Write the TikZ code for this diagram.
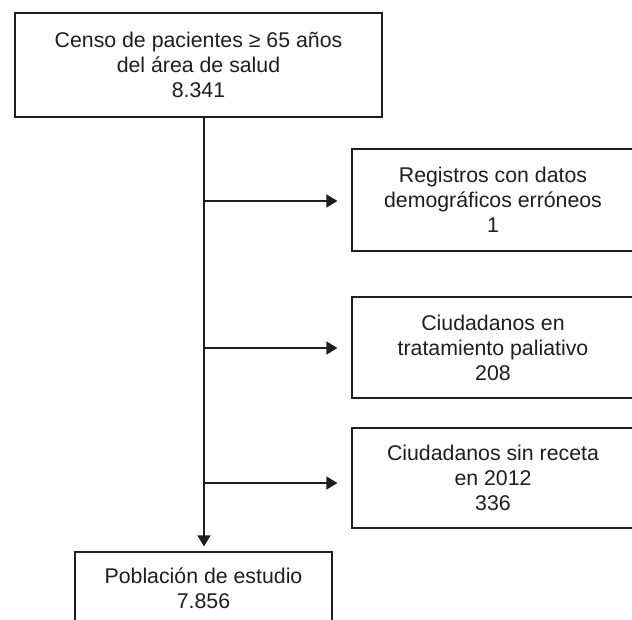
\documentclass[tikz,border=0pt]{standalone}
\usepackage{fontspec}
\setmainfont{Liberation Sans}
\usetikzlibrary{arrows.meta}
\definecolor{ink}{RGB}{30,30,30}
\begin{document}
\begin{tikzpicture}[x=1pt,y=-1pt,
  box/.style={draw=ink,line width=1.1pt,inner sep=0pt,align=center,text=ink,
    font=\fontsize{21.3}{25}\selectfont},
  conn/.style={draw=ink,line width=1.1pt,-{Triangle[length=11pt,width=13pt]}}]
\useasboundingbox[fill=white] (0,0) rectangle (632,619);
\node[box,minimum width=367pt,minimum height=104pt] (top) at (198.5,65)
  {Censo de pacientes ≥ 65 años\\del área de salud\\8.341};
\node[box,minimum width=282pt,minimum height=102pt] (b2) at (493,200)
  {Registros con datos\\demográficos erróneos\\1};
\node[box,minimum width=282pt,minimum height=101pt] (b3) at (493,347.5)
  {Ciudadanos en\\tratamiento paliativo\\208};
\node[box,minimum width=282pt,minimum height=100pt] (b4) at (493,478)
  {Ciudadanos sin receta\\en 2012\\336};
\node[box,minimum width=257pt,minimum height=72pt] (bot) at (203.5,588)
  {Población de estudio\\7.856};
\coordinate (trunk) at (204,0);
\coordinate (a2) at (204,201);
\coordinate (a3) at (204,348);
\coordinate (a4) at (204,483);
\draw[conn,shorten >=5pt] (top.south -| trunk) -- (bot.north -| trunk);
\draw[conn,shorten >=14pt] (a2) -- (a2 -| b2.west);
\draw[conn,shorten >=14pt] (a3) -- (a3 -| b3.west);
\draw[conn,shorten >=14pt] (a4) -- (a4 -| b4.west);
\end{tikzpicture}
\end{document}
